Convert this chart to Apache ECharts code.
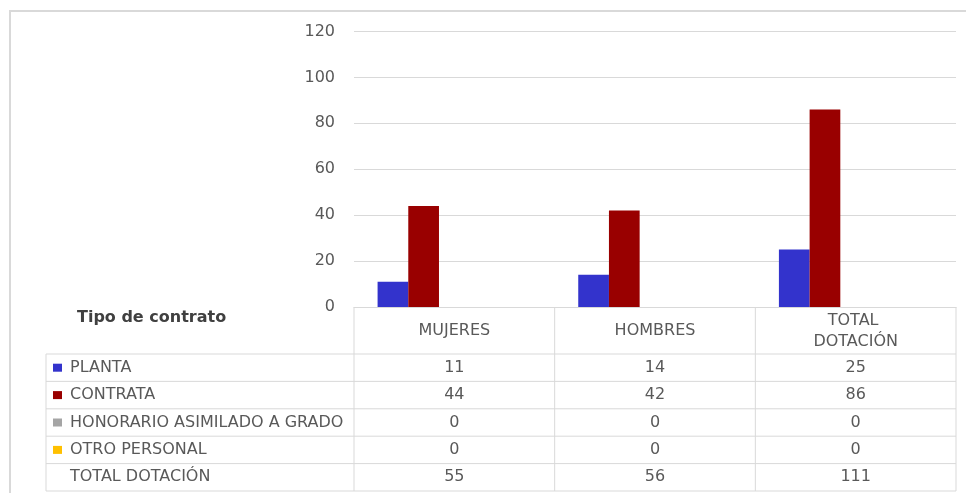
<!DOCTYPE html>
<html>
<head>
<meta charset="utf-8">
<script src="https://cdn.jsdelivr.net/npm/echarts@6/dist/echarts.min.js"></script>
<style>
html,body{margin:0;padding:0;background:#fff;}
#chart{width:966px;height:493px;}
</style>
</head>
<body>
<div id="chart"></div>
<script>
// ---- data ----
const categories = ['MUJERES', 'HOMBRES', 'TOTAL DOTACIÓN'];
const seriesNames = ['PLANTA', 'CONTRATA', 'HONORARIO ASIMILADO A GRADO', 'OTRO PERSONAL', 'TOTAL DOTACIÓN'];
const planta = [11, 14, 25];
const contrata = [44, 42, 86];
const honorario = [0, 0, 0];
const otroPersonal = [0, 0, 0];
const totalDotacion = [55, 56, 111];
const tableTitle = 'Tipo de contrato';
const yMin = 0, yMax = 120, yInterval = 20;

const seriesData = [planta, contrata, honorario, otroPersonal, totalDotacion];
const seriesColors = ['#3333CC', '#990000', '#A5A5A5', '#FFC000', 'rgba(0,0,0,0)'];

const FONT = 'DejaVu Sans';
const TXT = '#595959';
const LINE = '#d9d9d9';

const chart = echarts.init(document.getElementById('chart'), null, {renderer: 'canvas'});

const option = {
  animation: false,
  backgroundColor: '#fff',
  grid: {left: 354, right: 10, top: 31.5, bottom: 186, containLabel: false},
  xAxis: {
    type: 'category',
    data: categories,
    axisLine: {show: true, lineStyle: {color: LINE, width: 1}},
    axisTick: {show: false},
    axisLabel: {
      interval: 0, margin: 24, verticalAlign: 'middle',
      color: TXT, fontFamily: FONT, fontSize: 16, lineHeight: 21,
      width: 120, overflow: 'break'
    }
  },
  yAxis: {
    type: 'value', min: yMin, max: yMax, interval: yInterval,
    axisLine: {show: false}, axisTick: {show: false},
    axisLabel: {margin: 19, color: TXT, fontFamily: FONT, fontSize: 16},
    splitLine: {lineStyle: {color: LINE, width: 1}}
  },
  series: seriesNames.map((name, i) => ({
    name: name, type: 'bar', data: seriesData[i],
    barGap: '0%', barCategoryGap: '23.5%',
    itemStyle: {color: seriesColors[i]},
    silent: true
  }))
};
chart.setOption(option);

// ---- data table built from arrays, positioned via axis scale ----
const centers = categories.map(c => chart.convertToPixel({xAxisIndex: 0}, c));
const band = centers.length > 1 ? centers[1] - centers[0] : 200;
const y0 = chart.convertToPixel({yAxisIndex: 0}, 0);
const tableLeft = 46;
const headerBottom = 354;
const rowH = 27.4;
const rows = seriesNames.length;
const tableBottom = headerBottom + rows * rowH;
const colEdges = [centers[0] - band / 2].concat(centers.map(c => c + band / 2));

const g = [];
// outer chart border
g.push({type: 'rect', shape: {x: 10, y: 11, width: 990, height: 520}, style: {fill: null, stroke: LINE, lineWidth: 2}, silent: true});
// vertical lines
colEdges.forEach(x => g.push({type: 'line', shape: {x1: x, y1: y0, x2: x, y2: tableBottom}, style: {stroke: LINE, lineWidth: 1}}));
g.push({type: 'line', shape: {x1: tableLeft, y1: headerBottom, x2: tableLeft, y2: tableBottom}, style: {stroke: LINE, lineWidth: 1}});
// horizontal lines
for (let r = 0; r <= rows; r++) {
  const y = headerBottom + r * rowH;
  g.push({type: 'line', shape: {x1: tableLeft, y1: y, x2: colEdges[colEdges.length - 1], y2: y}, style: {stroke: LINE, lineWidth: 1}});
}
// title
g.push({type: 'text', x: 77, y: 318, style: {text: tableTitle, fill: '#404040', font: 'bold 16px "' + FONT + '"', textVerticalAlign: 'middle'}});
// rows
seriesNames.forEach((name, r) => {
  const cy = headerBottom + r * rowH + rowH / 2;
  if (r < 4) {
    g.push({type: 'rect', shape: {x: 53, y: cy - 4, width: 9, height: 8}, style: {fill: seriesColors[r]}});
  }
  g.push({type: 'text', x: 70, y: cy, style: {text: name, fill: TXT, font: '16px "' + FONT + '"', textVerticalAlign: 'middle'}});
  seriesData[r].forEach((v, c) => {
    g.push({type: 'text', x: centers[c], y: cy, style: {text: String(v), fill: TXT, font: '16px "' + FONT + '"', textAlign: 'center', textVerticalAlign: 'middle'}});
  });
});
chart.setOption({graphic: g});
</script>
</body>
</html>
